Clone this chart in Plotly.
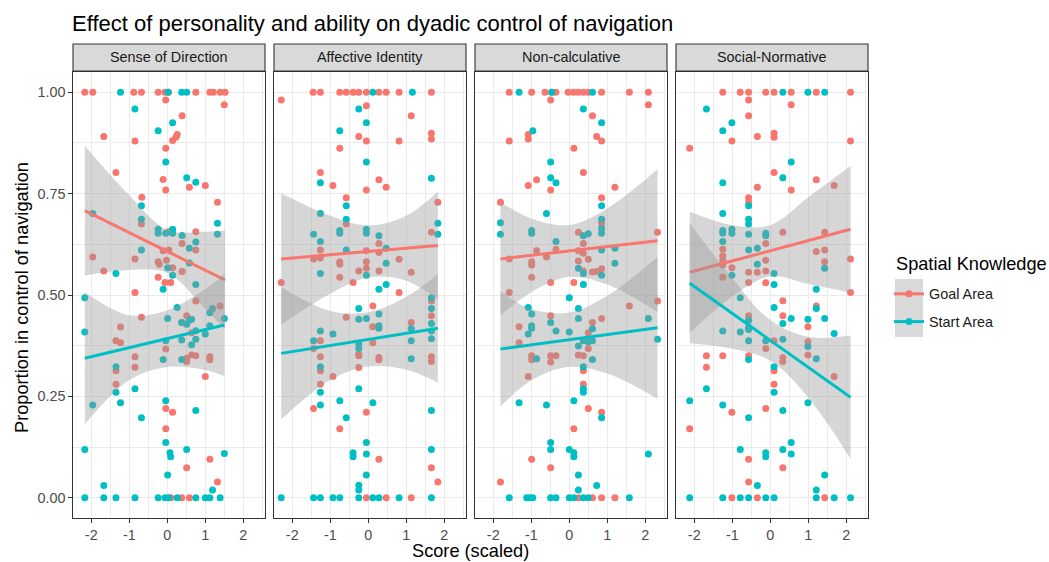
import numpy as np
import plotly.graph_objects as go
from plotly.subplots import make_subplots

# ---------------- data ----------------
panels = ["Sense of Direction", "Affective Identity", "Non-calculative", "Social-Normative"]
groups = ["Goal Area", "Start Area"]
group_colors = ["#F8766D", "#00BFC4"]
x_ticks = [-2, -1, 0, 1, 2]
y_ticks = [0.0, 0.25, 0.50, 0.75, 1.00]

sod_goal = [(-2.17,1),(-1.96,1),(-0.88,1),(-0.68,1),(-0.24,1),(-0.06,1),(0.03,1),(0.75,1),(1.12,1),(1.21,1),(1.39,1),(1.52,1),
 (-0.04,0.981),(1.50,0.969),(0.39,0.942),(0.26,0.896),(0.23,0.889),(0.14,0.881),(-1.67,0.891),(-0.85,0.880),(-0.04,0.862),
 (-1.35,0.802),(-0.11,0.785),(0.58,0.766),(1.00,0.770),(-0.04,0.759),(-0.67,0.741),(1.32,0.729),
 (-0.68,0.675),(0.03,0.656),(0.75,0.656),(-1.96,0.594),(-0.85,0.589),(-0.11,0.609),(0.04,0.611),(0.39,0.627),(0.75,0.611),
 (-0.24,0.582),(-0.02,0.586),(-0.21,0.576),(0.14,0.567),(-1.67,0.559),(0.39,0.558),(-0.24,0.544),(-0.06,0.531),(0.09,0.531),
 (-0.85,0.506),(0.75,0.485),(1.39,0.473),(-0.68,0.445),(-1.23,0.421),(0.51,0.449),(0.38,0.432),(-1.35,0.387),(-1.23,0.382),
 (0.64,0.407),(-0.04,0.367),(-0.85,0.348),(-0.85,0.322),(-1.35,0.313),(0.51,0.344),(0.51,0.336),(0.64,0.352),(0.75,0.350),
 (1.12,0.348),(1.12,0.340),(-1.35,0.280),(1.00,0.299),(-0.04,0.220),(0.14,0.211),(-0.04,0.170),(1.12,0.095),(0.51,0.074),
 (1.32,0.039),(0.09,0),(0.38,0),(0.58,0)]

sod_start = [(-1.23,1),(0.02,1),(0.38,1),(0.51,1),
 (-0.85,0.959),(0.14,0.925),(-0.24,0.905),(-0.04,0.828),(0.51,0.789),(0.75,0.778),(-1.96,0.701),(-0.68,0.720),(-0.68,0.687),
 (1.32,0.677),(1.32,0.650),(-0.24,0.662),(-0.24,0.652),(-0.04,0.652),(0.14,0.662),(0.14,0.652),(0.39,0.647),(0.75,0.631),
 (0.58,0.615),(-0.68,0.611),(-1.35,0.553),(0.01,0.567),(0.14,0.549),(0.58,0.579),(0.75,0.526),(-0.11,0.514),(-2.17,0.493),
 (0.26,0.469),(1.12,0.456),(1.19,0.467),(0.01,0.442),(0.58,0.438),(0.64,0.440),(0.51,0.428),(0.38,0.432),(1.50,0.442),
 (-2.17,0.409),(1.12,0.424),(1.00,0.404),(0.75,0.412),(0.75,0.391),(-0.04,0.387),(0.38,0.389),(0.64,0.377),(-0.11,0.341),
 (0.38,0.341),(-1.35,0.323),(-1.35,0.260),(-0.85,0.269),(-1.96,0.229),(-1.23,0.234),(-0.04,0.239),(0.75,0.215),(-0.68,0.197),
 (-2.17,0.119),(-0.04,0.136),(0.07,0.111),(0.09,0.101),(0.51,0.119),(1.50,0.109),(0.01,0.056),(-1.67,0.030),(1.19,0.019),
 (-2.17,0),(-1.67,0),(-1.35,0),(-0.85,0),(-0.24,0),(-0.06,0),(0.03,0),(0.26,0),(0.75,0),(1.00,0),(1.12,0),(1.39,0)]

aid_goal = [(-1.45,1),(-1.26,1),(-0.75,1),(-0.58,1),(-0.40,1),(-0.25,1),(-0.05,1),(0.28,1),(0.47,1),(0.81,1),(1.66,1),
 (-2.29,0.981),(-0.05,0.967),(1.13,0.942),(-0.25,0.891),(-0.05,0.880),(0.81,0.880),(1.66,0.899),(1.66,0.885),(-0.75,0.862),
 (-1.26,0.802),(-0.93,0.770),(0.28,0.784),(0.47,0.766),(-0.05,0.759),(-0.58,0.740),(1.83,0.729),(-0.58,0.675),(1.66,0.655),
 (-1.26,0.611),(0.28,0.627),(0.28,0.605),(-0.05,0.609),(-1.44,0.589),(-1.26,0.591),(-0.75,0.582),(-0.75,0.576),(-0.05,0.582),
 (-0.05,0.566),(-0.25,0.559),(0.28,0.559),(0.81,0.588),(1.13,0.556),(-0.75,0.544),(-2.29,0.531),(-0.40,0.531),(0.81,0.506),
 (1.66,0.485),(0.12,0.473),(-0.58,0.445),(1.66,0.449),(0.12,0.422),(1.13,0.432),(-1.26,0.387),(-1.44,0.368),(0.12,0.382),
 (-0.25,0.354),(-0.25,0.350),(-1.26,0.348),(0.28,0.346),(0.28,0.340),(1.66,0.348),(1.66,0.336),(-1.26,0.313),(-0.25,0.321),
 (-0.93,0.299),(-1.26,0.280),(-1.44,0.220),(-0.05,0.211),(-0.75,0.170),(0.28,0.095),(1.66,0.074),(1.83,0.039),
 (-0.05,0),(0.47,0),(1.13,0)]

aid_start = [(0.12,1),(1.16,1),(-0.25,0.959),(-0.05,0.925),(-0.75,0.905),(-0.05,0.828),(-1.26,0.777),(1.66,0.788),
 (-0.58,0.720),(-1.26,0.701),(-0.58,0.687),(-0.75,0.659),(-0.75,0.652),(-1.44,0.650),(-1.26,0.632),(-0.05,0.662),
 (-0.05,0.652),(0.28,0.646),(1.83,0.677),(1.83,0.650),(-0.58,0.611),(0.47,0.615),(0.47,0.578),(-1.26,0.553),(-0.05,0.549),
 (0.47,0.526),(0.28,0.514),(1.66,0.493),(-0.25,0.467),(1.66,0.467),(-0.25,0.440),(-0.05,0.442),(0.28,0.453),(0.28,0.424),
 (0.28,0.418),(1.66,0.430),(-0.93,0.404),(-1.26,0.411),(1.13,0.417),(1.66,0.411),(1.66,0.392),(-1.44,0.387),(-0.25,0.379),
 (-0.25,0.368),(1.13,0.387),(1.13,0.343),(-1.26,0.323),(-0.25,0.269),(-1.26,0.260),(-0.75,0.239),(-1.26,0.229),(0.12,0.234),
 (1.66,0.215),(-0.58,0.197),(-0.05,0.136),(-0.40,0.111),(-0.40,0.101),(-0.05,0.108),(1.66,0.119),(-0.05,0.056),(-0.25,0.031),
 (-0.25,0.019),(-2.29,0),(-1.44,0),(-1.26,0),(-0.93,0),(-0.75,0),(-0.25,0),(0.12,0),(0.28,0),(0.81,0),(1.66,0)]

ncl_goal = [(-1.58,1),(-0.99,1),(-0.64,1),(-0.46,1),(-0.35,1),(-0.03,1),(0.11,1),(0.24,1),(0.37,1),(0.50,1),(0.85,1),(1.58,1),(2.08,1),
 (-0.49,0.981),(2.08,0.969),(0.61,0.942),(-1.08,0.896),(-1.08,0.885),(0.72,0.891),(0.85,0.880),(-1.58,0.880),(0.12,0.862),
 (0.37,0.802),(-0.86,0.784),(-1.08,0.770),(-0.49,0.759),(1.20,0.766),(0.85,0.740),(-1.81,0.729),(0.85,0.677),(0.24,0.655),
 (2.32,0.655),(0.37,0.627),(-0.86,0.609),(-0.35,0.613),(-0.60,0.594),(0.24,0.609),(-1.58,0.589),(-0.99,0.582),(-0.99,0.574),
 (0.37,0.603),(0.24,0.584),(0.50,0.588),(0.37,0.559),(0.61,0.557),(0.72,0.558),(0.85,0.565),(-0.99,0.544),(-0.49,0.531),
 (0.12,0.531),(-1.58,0.506),(2.32,0.485),(1.58,0.473),(-0.49,0.449),(0.85,0.442),(-1.32,0.422),(0.61,0.432),(0.50,0.407),
 (-1.32,0.382),(0.24,0.352),(0.37,0.350),(0.50,0.368),(-0.99,0.350),(-0.99,0.340),(-0.49,0.350),(-0.49,0.335),(-0.35,0.350),
 (0.37,0.313),(-1.08,0.299),(0.37,0.280),(0.50,0.220),(0.85,0.211),(0.12,0.170),(-0.99,0.095),(-0.49,0.074),(-1.81,0.039),
 (0.24,0),(0.61,0),(0.85,0),(1.20,0)]

ncl_start = [(-1.32,1),(-0.46,1),(0.61,1),(0.37,0.959),(0.85,0.925),(-0.96,0.905),(-0.49,0.828),(-0.49,0.789),(-0.35,0.777),
 (0.85,0.720),(-0.60,0.701),(0.85,0.687),(-1.81,0.678),(-1.81,0.650),(0.85,0.664),(0.85,0.652),(-0.99,0.659),(-0.99,0.652),
 (0.37,0.646),(0.50,0.651),(-0.35,0.632),(1.20,0.615),(0.85,0.611),(1.20,0.578),(0.24,0.566),(0.37,0.553),(0.85,0.549),
 (0.37,0.526),(0.00,0.493),(0.24,0.467),(-1.08,0.469),(-0.99,0.453),(0.24,0.442),(2.08,0.442),(-0.49,0.432),(-0.99,0.424),
 (-0.99,0.418),(0.61,0.417),(-0.35,0.411),(-1.08,0.404),(0.00,0.409),(2.32,0.391),(0.37,0.387),(0.50,0.385),(0.61,0.387),
 (0.24,0.374),(-0.86,0.343),(0.61,0.341),(0.37,0.323),(0.37,0.269),(0.37,0.260),(-1.32,0.234),(-0.60,0.229),(0.12,0.239),
 (0.85,0.197),(-0.49,0.136),(-0.49,0.119),(0.00,0.119),(0.12,0.111),(0.12,0.101),(2.08,0.108),(0.24,0.056),(0.72,0.030),
 (0.24,0.019),(-1.58,0),(-1.12,0),(-1.04,0),(-0.96,0),(-0.49,0),(-0.35,0),(0.00,0),(0.12,0),(0.37,0),(0.50,0),(1.58,0)]

sn_goal = [(-1.25,1),(-0.79,1),(-0.57,1),(-0.12,1),(0.10,1),(0.55,1),(1.21,1),(2.11,1),
 (-0.57,0.981),(0.55,0.969),(-0.57,0.942),(-1.01,0.880),(-0.34,0.891),(0.10,0.899),(0.10,0.889),(2.11,0.880),(-2.12,0.862),
 (0.10,0.802),(1.21,0.784),(-0.34,0.766),(0.55,0.759),(1.68,0.770),(-0.57,0.740),(-0.57,0.729),(0.33,0.655),(1.43,0.655),
 (-1.25,0.613),(-0.12,0.627),(-1.25,0.596),(-1.25,0.586),(1.21,0.607),(1.43,0.611),(-0.12,0.586),(-1.25,0.574),(-1.01,0.567),
 (1.43,0.582),(2.11,0.589),(-1.25,0.544),(-0.57,0.556),(-0.34,0.556),(-0.12,0.559),(-0.57,0.531),(-0.12,0.530),(2.11,0.506),
 (0.33,0.486),(1.21,0.473),(0.33,0.449),(-0.57,0.449),(0.99,0.422),(0.10,0.387),(0.99,0.385),(-0.12,0.368),(-1.68,0.350),
 (-1.25,0.350),(-0.57,0.350),(0.33,0.346),(0.33,0.336),(0.99,0.352),(-1.68,0.322),(0.10,0.313),(1.68,0.299),(0.10,0.280),
 (-0.12,0.220),(-1.01,0.211),(-2.12,0.170),(-0.57,0.095),(0.33,0.074),(-0.57,0.039),(-1.01,0),(-0.34,0),(1.43,0)]

sn_start = [(0.33,1),(0.99,1),(1.43,1),(-1.68,0.959),(-1.01,0.925),(-1.25,0.905),(0.55,0.828),(0.33,0.789),(-1.25,0.777),
 (-0.57,0.720),(-1.25,0.701),(-0.57,0.687),(-0.57,0.675),(-1.25,0.659),(-1.25,0.652),(-1.01,0.662),(-1.01,0.652),(-0.57,0.650),
 (-0.12,0.652),(-0.12,0.646),(-1.25,0.632),(-0.57,0.611),(-0.34,0.615),(-0.34,0.576),(1.43,0.566),(-1.01,0.549),(0.10,0.553),
 (0.10,0.526),(1.21,0.514),(-0.79,0.493),(0.10,0.469),(1.21,0.467),(-0.57,0.438),(0.55,0.442),(0.99,0.440),(1.43,0.442),
 (0.33,0.430),(-1.25,0.411),(-0.79,0.409),(-0.57,0.420),(-0.57,0.415),(1.68,0.405),(-0.57,0.387),(-0.12,0.387),(0.33,0.391),
 (0.99,0.373),(-0.57,0.341),(1.21,0.343),(0.10,0.323),(-1.68,0.269),(0.10,0.260),(-2.12,0.239),(0.99,0.234),(-1.25,0.229),
 (0.33,0.215),(-0.57,0.197),(-0.79,0.119),(-0.12,0.111),(-0.12,0.101),(0.33,0.119),(0.55,0.136),(0.55,0.108),(1.43,0.056),
 (-0.34,0.030),(1.21,0.019),(-2.12,0),(-1.25,0),(-0.79,0),(-0.57,0),(-0.12,0),(0.10,0),(1.21,0),(1.68,0),(2.11,0)]

# linear-fit (geom_smooth, method = "lm"):
# fitted value at the left and right end of each group's data range ...
sod_fit_ends = {"Goal Area": (0.708, 0.537), "Start Area": (0.344, 0.426)}
aid_fit_ends = {"Goal Area": (0.589, 0.622), "Start Area": (0.356, 0.418)}
ncl_fit_ends = {"Goal Area": (0.589, 0.634), "Start Area": (0.367, 0.419)}
sn_fit_ends  = {"Goal Area": (0.556, 0.662), "Start Area": (0.529, 0.248)}
# ... and half-width of the 95% band at [left end, -1, 0, 1, right end]
sod_band_half = {"Goal Area": [0.160, 0.092, 0.053, 0.095, 0.122], "Start Area": [0.163, 0.080, 0.070, 0.100, 0.126]}
aid_band_half = {"Goal Area": [0.162, 0.096, 0.064, 0.080, 0.133], "Start Area": [0.163, 0.085, 0.067, 0.090, 0.134]}
ncl_band_half = {"Goal Area": [0.140, 0.091, 0.064, 0.094, 0.176], "Start Area": [0.142, 0.088, 0.067, 0.096, 0.175]}
sn_band_half  = {"Goal Area": [0.150, 0.088, 0.063, 0.107, 0.156], "Start Area": [0.148, 0.087, 0.050, 0.075, 0.152]}
band_x_inner = [-1, 0, 1]

panel_points = [(sod_goal, sod_start), (aid_goal, aid_start), (ncl_goal, ncl_start), (sn_goal, sn_start)]
panel_fit_ends = [sod_fit_ends, aid_fit_ends, ncl_fit_ends, sn_fit_ends]
panel_band_half = [sod_band_half, aid_band_half, ncl_band_half, sn_band_half]

# ---------------- layout geometry ----------------
W, H = 1049, 562
ML, MR, MT, MB = 73, 181, 44, 44
PW = W - ML - MR          # 795
PH = H - MT - MB          # 474
panel_w, gap = 192, 9
panel_top = 72
strip_bottom = 71
ydom_top = (H - MB - panel_top) / PH
strip_y0 = (H - MB - strip_bottom) / PH

FONT = "Liberation Sans, Arial, Helvetica, sans-serif"
SMALL = 14.4
BIG = 18.2

fig = make_subplots(rows=1, cols=4, shared_yaxes=True, horizontal_spacing=gap / PW)

for i, pts in enumerate(panel_points):
    col = i + 1
    # points layer
    for series, color in zip(pts, group_colors):
        fig.add_trace(go.Scatter(x=[p[0] for p in series], y=[p[1] for p in series], mode="markers",
                                 marker=dict(color=color, size=7, line=dict(width=0)),
                                 showlegend=False, hoverinfo="skip"), row=1, col=col)
    # smooth layer
    for series, gname, color in zip(pts, groups, group_colors):
        xs = [p[0] for p in series]
        x_lo, x_hi = min(xs), max(xs)
        f_lo, f_hi = panel_fit_ends[i][gname]
        bx = np.array([x_lo] + band_x_inner + [x_hi], float)
        fit_b = f_lo + (f_hi - f_lo) * (bx - x_lo) / (x_hi - x_lo)
        half = np.array(panel_band_half[i][gname])
        upper = fit_b + half
        lower = fit_b - half
        fig.add_trace(go.Scatter(x=list(bx), y=list(upper), mode="lines",
                                 line=dict(width=0, shape="spline", smoothing=1.0),
                                 showlegend=False, hoverinfo="skip"), row=1, col=col)
        fig.add_trace(go.Scatter(x=list(bx), y=list(lower), mode="lines",
                                 line=dict(width=0, shape="spline", smoothing=1.0),
                                 fill="tonexty", fillcolor="rgba(153,153,153,0.4)",
                                 showlegend=False, hoverinfo="skip"), row=1, col=col)
        fig.add_trace(go.Scatter(x=[x_lo, x_hi], y=[f_lo, f_hi], mode="lines",
                                 line=dict(color=color, width=3),
                                 showlegend=False, hoverinfo="skip"), row=1, col=col)

# legend entries
for gname, color in zip(groups, group_colors):
    fig.add_trace(go.Scatter(x=[None], y=[None], mode="lines+markers", name=gname,
                             legendgroup=gname,
                             line=dict(color=color, width=3),
                             marker=dict(color=color, size=7)), row=1, col=1)

axis_common = dict(showline=True, mirror=True, linecolor="#333333", linewidth=1.1,
                   ticks="outside", ticklen=3.5, tickwidth=1.1, tickcolor="#333333",
                   showgrid=True, gridcolor="#EBEBEB", gridwidth=1.3, zeroline=False,
                   tickfont=dict(family=FONT, size=SMALL, color="#4D4D4D"))

for i in range(4):
    x0 = i * (panel_w + gap) / PW
    x1 = (i * (panel_w + gap) + panel_w) / PW
    xa = "xaxis" if i == 0 else f"xaxis{i+1}"
    ya = "yaxis" if i == 0 else f"yaxis{i+1}"
    fig.layout[xa].update(domain=[x0, x1], range=[-2.48, 2.57],
                          tickmode="array", tickvals=x_ticks, ticktext=[str(v) for v in x_ticks],
                          minor=dict(tick0=0.5, dtick=1, showgrid=True, gridcolor="#EBEBEB",
                                     gridwidth=0.65, ticks=""),
                          **axis_common)
    fig.layout[ya].update(domain=[0, ydom_top], range=[-0.05, 1.05],
                          tickmode="array", tickvals=y_ticks,
                          ticktext=[f"{v:.2f}" for v in y_ticks],
                          minor=dict(tick0=0.125, dtick=0.25, showgrid=True, gridcolor="#EBEBEB",
                                     gridwidth=0.65, ticks=""),
                          **axis_common)
    if i > 0:
        fig.layout[ya].update(showticklabels=False, ticks="")
    # facet strip
    fig.add_shape(type="rect", xref="paper", yref="paper", x0=x0, x1=x1, y0=strip_y0, y1=1.0,
                  fillcolor="#D9D9D9", line=dict(color="#333333", width=1.1), layer="above")
    fig.add_annotation(xref="paper", yref="paper", x=(x0 + x1) / 2, y=(strip_y0 + 1.0) / 2,
                       text=panels[i], showarrow=False, xanchor="center", yanchor="middle",
                       font=dict(family=FONT, size=SMALL, color="#1A1A1A"))

# axis titles
fig.add_annotation(xref="paper", yref="paper", x=(470.5 - ML) / PW, y=(H - MB - 551) / PH,
                   text="Score (scaled)", showarrow=False, xanchor="center", yanchor="middle",
                   font=dict(family=FONT, size=BIG, color="#000000"))
fig.add_annotation(xref="paper", yref="paper", x=(22 - ML) / PW, y=(H - MB - 298) / PH,
                   text="Proportion in control of navigation", showarrow=False, textangle=-90,
                   xanchor="center", yanchor="middle",
                   font=dict(family=FONT, size=BIG, color="#000000"))

# legend title and key backgrounds
fig.add_annotation(xref="paper", yref="paper", x=(894 - ML) / PW, y=(H - MB - 264) / PH,
                   text="Spatial Knowledge", showarrow=False, xanchor="left", yanchor="middle",
                   font=dict(family=FONT, size=BIG, color="#000000"))
for k in range(2):
    fig.add_shape(type="rect", xref="paper", yref="paper",
                  x0=(895 - ML) / PW, x1=(923 - ML) / PW,
                  y0=(H - MB - (308 + 29 * k)) / PH, y1=(H - MB - (279 + 29 * k)) / PH,
                  fillcolor="#D9D9D9", line=dict(width=0), layer="below")

fig.update_layout(
    width=W, height=H,
    margin=dict(l=ML, r=MR, t=MT, b=MB),
    paper_bgcolor="white", plot_bgcolor="white",
    font=dict(family=FONT, color="#000000"),
    title=dict(text="Effect of personality and ability on dyadic control of navigation",
               xref="container", yref="container", x=72 / W, xanchor="left",
               y=(H - 23) / H, yanchor="middle",
               font=dict(family=FONT, size=22, color="#000000")),
    legend=dict(font=dict(family=FONT, size=SMALL, color="#1A1A1A"),
                x=(889 - ML) / PW, xanchor="left", y=(H - MB - 278) / PH, yanchor="top",
                bgcolor="rgba(0,0,0,0)", tracegroupgap=6, itemwidth=30),
    showlegend=True,
)

fig.write_html("out.html", config={"displayModeBar": False},
               post_script="document.body.style.margin='0px';")
